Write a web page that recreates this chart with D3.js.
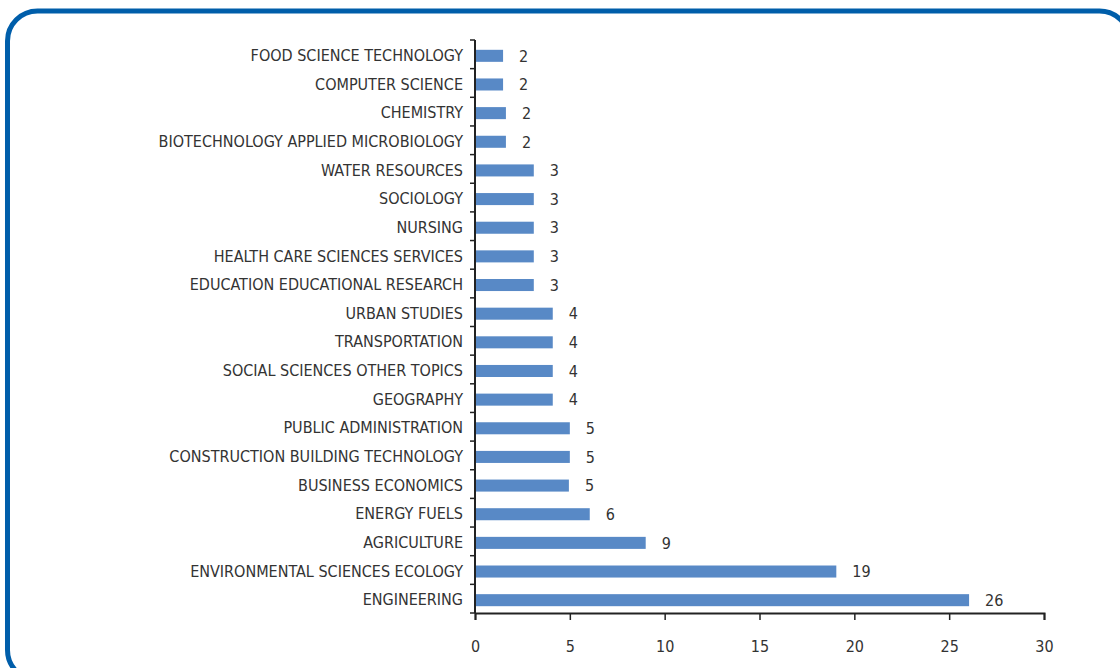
<!DOCTYPE html>
<html>
<head>
<meta charset="utf-8">
<script src="https://cdn.jsdelivr.net/npm/d3@7"></script>
<style>
    body { margin: 0; background: #fff; }
    svg text { font-family: "Liberation Sans Narrow", "DejaVu Sans Condensed", "Roboto Condensed", sans-serif; fill: #333; }
</style>
</head>
<body>
<div id="chart"></div>
<script>
// ========== Data ==========
const categories = [
    "FOOD SCIENCE TECHNOLOGY", "COMPUTER SCIENCE", "CHEMISTRY",
    "BIOTECHNOLOGY APPLIED MICROBIOLOGY", "WATER RESOURCES", "SOCIOLOGY",
    "NURSING", "HEALTH CARE SCIENCES SERVICES", "EDUCATION EDUCATIONAL RESEARCH",
    "URBAN STUDIES", "TRANSPORTATION", "SOCIAL SCIENCES OTHER TOPICS",
    "GEOGRAPHY", "PUBLIC ADMINISTRATION", "CONSTRUCTION BUILDING TECHNOLOGY",
    "BUSINESS ECONOMICS", "ENERGY FUELS", "AGRICULTURE",
    "ENVIRONMENTAL SCIENCES ECOLOGY", "ENGINEERING"
];
// bar lengths as drawn
const values = [1.48, 1.48, 1.63, 1.63, 3.1, 3.1, 3.1, 3.1, 3.1, 4.1, 4.1, 4.1, 4.1, 5.0, 5.0, 4.95, 6.05, 9.0, 19.05, 26.05];
// labels printed next to the bars
const valueLabels = [2, 2, 2, 2, 3, 3, 3, 3, 3, 4, 4, 4, 4, 5, 5, 5, 6, 9, 19, 26];
const xTicks = [0, 5, 10, 15, 20, 25, 30];

// ========== Chart ==========
const width = 1120, height = 668;
const svg = d3.select("#chart").append("svg")
    .attr("width", width)
    .attr("height", height);

// rounded frame
svg.append("rect")
    .attr("x", 7.5).attr("y", 11)
    .attr("width", 1122).attr("height", 669)
    .attr("rx", 30).attr("ry", 30)
    .attr("fill", "none")
    .attr("stroke", "#005EAA")
    .attr("stroke-width", 5);

const x = d3.scaleLinear().domain([0, 30]).range([475, 1044]);
const y = d3.scaleBand().domain(categories).range([40, 613]).paddingInner(0.58).paddingOuter(0.29);
const shift = 1.5; // bars sit a little below band centre

// Bars
svg.selectAll(".bar")
    .data(categories)
    .enter().append("rect")
    .attr("class", "bar")
    .attr("x", x(0))
    .attr("y", d => y(d) + shift)
    .attr("width", (d, i) => x(values[i]) - x(0))
    .attr("height", y.bandwidth())
    .attr("fill", "#5889C6");

// Value labels
svg.selectAll(".val")
    .data(categories)
    .enter().append("text")
    .attr("class", "val")
    .attr("x", (d, i) => x(values[i]) + 16)
    .attr("y", d => y(d) + y.bandwidth() / 2 + shift)
    .attr("dy", "0.36em")
    .attr("font-size", 16)
    .text((d, i) => valueLabels[i]);

// Y axis (labels only, ticks at band boundaries)
const yAxis = svg.append("g")
    .attr("transform", `translate(${x(0)},${shift})`)
    .call(d3.axisLeft(y).tickSize(0).tickPadding(12));
yAxis.select(".domain").remove();
yAxis.selectAll("text").attr("font-size", 16).attr("fill", "#333");

const step = y.step();
const bounds = d3.range(categories.length + 1).map(i => 40 + i * step);
svg.selectAll(".ytick")
    .data(bounds)
    .enter().append("line")
    .attr("x1", x(0) - 5).attr("x2", x(0))
    .attr("y1", d => d).attr("y2", d => d)
    .attr("stroke", "#222").attr("stroke-width", 1.5);

svg.append("line")
    .attr("x1", x(0)).attr("x2", x(0))
    .attr("y1", 40).attr("y2", 613)
    .attr("stroke", "#222").attr("stroke-width", 2);

// X axis
const xAxis = svg.append("g")
    .attr("transform", "translate(0,613)")
    .call(d3.axisBottom(x).tickValues(xTicks).tickSize(7).tickPadding(21));
xAxis.select(".domain").attr("stroke", "#222").attr("stroke-width", 2);
xAxis.selectAll(".tick line").attr("stroke", "#222").attr("stroke-width", 1.5);
xAxis.selectAll("text").attr("font-size", 16).attr("fill", "#333");
</script>
</body>
</html>
